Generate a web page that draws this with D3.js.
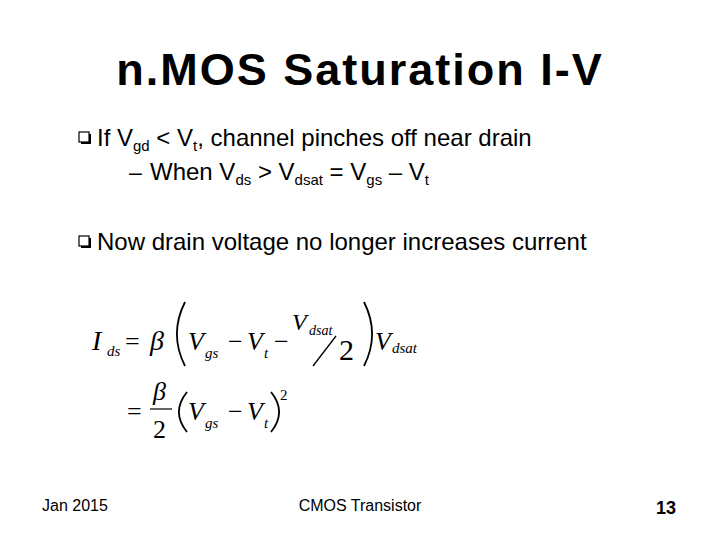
<!DOCTYPE html>
<html><head><meta charset="utf-8">
<script src="https://cdn.jsdelivr.net/npm/d3@7"></script>
<style>body{margin:0;background:#fff}svg{display:block}</style>
</head><body>
<svg id="s" width="720" height="540"></svg>
<script>
const title = "n.MOS Saturation I-V";
// each line: list of [text, baseline shift] pieces
const bullets = [
  { level: 0, y: 146, parts: [["If V", 0], ["gd", 1], [" < V", 0], ["t", 1], [", channel pinches off near drain", 0]] },
  { level: 1, y: 180, parts: [["When V", 0], ["ds", 1], [" > V", 0], ["dsat", 1], [" = V", 0], ["gs", 1], [" – V", 0], ["t", 1]] },
  { level: 0, y: 250, parts: [["Now drain voltage no longer increases current", 0]] }
];
const footer = { left: "Jan 2015", center: "CMOS Transistor", right: "13" };

const svg = d3.select("#s");
const sans = "'Liberation Sans', Arial, sans-serif";
const serif = "'Liberation Serif', 'Times New Roman', serif";

svg.append("text").attr("x", 360).attr("y", 85).attr("text-anchor", "middle")
  .style("font-family", sans).style("font-weight", "bold").style("font-size", "45px")
  .style("letter-spacing", "2px")
  .text(title);

bullets.forEach(b => {
  const x0 = b.level === 0 ? 97 : 150;
  if (b.level === 0) {
    svg.append("rect").attr("x", 79).attr("y", b.y - 14).attr("width", 10).attr("height", 10)
      .attr("fill", "none").attr("stroke", "#000").attr("stroke-width", 1.2);
    svg.append("path").attr("d", `M${81},${b.y - 3} H${90} V${b.y - 12}`)
      .attr("fill", "none").attr("stroke", "#000").attr("stroke-width", 2);
  } else {
    svg.append("text").attr("x", 129).attr("y", b.y).style("font-family", sans)
      .style("font-size", "23px").text("–");
  }
  const t = svg.append("text").attr("x", x0).attr("y", b.y)
    .style("font-family", sans).style("font-size", "24px");
  let sub = false;
  b.parts.forEach(([txt, s]) => {
    const ts = t.append("tspan").text(txt);
    if (s && !sub) { ts.attr("dy", 5).style("font-size", "15px"); sub = true; }
    else if (!s && sub) { ts.attr("dy", -5); sub = false; }
  });
});

// equation
const eq = svg.append("g").style("font-family", serif).style("font-style", "italic");
function txt(x, y, s, size, italic = true) {
  return eq.append("text").attr("x", x).attr("y", y).style("font-size", size + "px")
    .style("font-style", italic ? "italic" : "normal").text(s);
}
function paren(x, y1, y2, left) {
  const m = (y1 + y2) / 2, d = left ? -9 : 9;
  eq.append("path").attr("d", `M${x},${y1} Q${x + d * 1.8},${m} ${x},${y2}`)
    .attr("fill", "none").attr("stroke", "#000").attr("stroke-width", 1.8);
}
txt(92, 350, "I", 28); txt(107, 356, "ds", 15);
txt(125, 350, "=", 26, false);
txt(150, 350, "β", 28);
paren(185, 302, 366, true);
txt(188, 350, "V", 26); txt(205, 358, "gs", 15);
txt(228, 350, "−", 26, false);
txt(247, 350, "V", 26); txt(264, 358, "t", 15);
txt(274, 350, "−", 26, false);
txt(292, 330, "V", 24); txt(309, 335, "dsat", 14);
eq.append("line").attr("x1", 313).attr("y1", 366).attr("x2", 336).attr("y2", 336)
  .attr("stroke", "#000").attr("stroke-width", 1.3);
txt(339, 360, "2", 30, false);
paren(364, 302, 366, false);
txt(375, 350, "V", 26); txt(392, 353, "dsat", 15);

txt(127, 420, "=", 26, false);
txt(153, 400, "β", 26);
eq.append("line").attr("x1", 150).attr("y1", 409).attr("x2", 172).attr("y2", 409)
  .attr("stroke", "#000").attr("stroke-width", 1.2);
txt(153, 438, "2", 26, false);
paren(187, 392, 432, true);
txt(188, 420, "V", 26); txt(205, 428, "gs", 15);
txt(228, 420, "−", 26, false);
txt(247, 420, "V", 26); txt(264, 428, "t", 15);
paren(271, 392, 432, false);
txt(280, 400, "2", 15, false);

svg.append("text").attr("x", 42).attr("y", 511).style("font-family", sans).style("font-size", "16px").text(footer.left);
svg.append("text").attr("x", 360).attr("y", 511).attr("text-anchor", "middle").style("font-family", sans).style("font-size", "16px").text(footer.center);
svg.append("text").attr("x", 676).attr("y", 514).attr("text-anchor", "end").style("font-family", sans).style("font-weight", "bold").style("font-size", "18px").text(footer.right);
</script>
</body></html>
